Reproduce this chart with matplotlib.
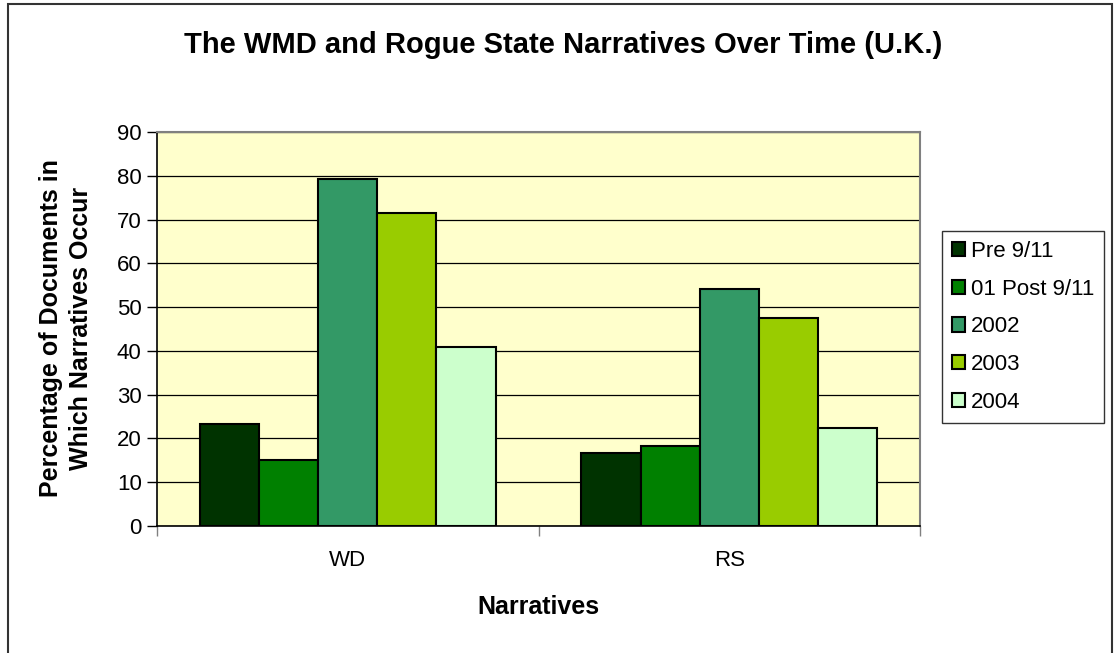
import numpy as np
import matplotlib
matplotlib.use("Agg")
import matplotlib.pyplot as plt
from matplotlib.patches import Rectangle

plt.rcParams['font.family'] = ['Liberation Sans', 'DejaVu Sans']

categories = ['WD', 'RS']
series_names = ['Pre 9/11', '01 Post 9/11', '2002', '2003', '2004']
series_values = [
    [23.3, 16.7],   # Pre 9/11
    [15.1, 18.2],   # 01 Post 9/11
    [79.2, 54.1],   # 2002
    [71.4, 47.6],   # 2003
    [40.8, 22.4],   # 2004
]
colors = ['#003300', '#008000', '#339966', '#99CC00', '#CCFFCC']

fig = plt.figure(figsize=(11.14, 6.53), dpi=100)
W, H = 1114, 653
ax = fig.add_axes([157 / W, 1 - 526 / H, (920 - 157) / W, (526 - 132) / H])
ax.set_facecolor('#FFFFCC')

x = np.arange(len(categories))
bar_w = 0.155
offsets = (np.arange(len(series_names)) - 2) * bar_w
for vals, name, col, off in zip(series_values, series_names, colors, offsets):
    ax.bar(x + off, vals, width=bar_w, color=col, edgecolor='black',
           linewidth=1.5, label=name, zorder=3)

ax.set_xlim(-0.5, 1.5)
ax.set_ylim(0, 90)
ax.set_yticks(np.arange(0, 91, 10))
ax.yaxis.grid(True, color='black', linewidth=0.9, zorder=1)
ax.set_axisbelow(True)

# category boundary ticks on the x axis, labels centred under groups
ax.set_xticks([-0.5, 0.5, 1.5])
ax.set_xticklabels([])
ax.set_xticks(x, minor=True)
ax.set_xticklabels(categories, minor=True)
ax.tick_params(axis='x', which='minor', length=0, pad=17, labelsize=16)
ax.tick_params(axis='x', which='major', length=7, width=1, color='#808080')
ax.tick_params(axis='y', length=7, width=1, labelsize=16, pad=4)

for side in ('top', 'right'):
    ax.spines[side].set_color('#808080')
    ax.spines[side].set_linewidth(1.5)
for side in ('left', 'bottom'):
    ax.spines[side].set_color('black')
    ax.spines[side].set_linewidth(1.2)

fig.text(563 / W, 1 - 45 / H, 'The WMD and Rogue State Narratives Over Time (U.K.)',
         ha='center', va='center', fontsize=21, fontweight='bold')
fig.text(538 / W, 1 - 607 / H, 'Narratives', ha='center', va='center',
         fontsize=18, fontweight='bold')
fig.text(66 / W, 1 - 328 / H, 'Percentage of Documents in\nWhich Narratives Occur',
         ha='center', va='center', rotation=90, fontsize=18, fontweight='bold',
         linespacing=1.3)

leg = ax.legend(loc='upper left', bbox_to_anchor=(942 / W, 1 - 231 / H),
                bbox_transform=fig.transFigure, frameon=True, fancybox=False,
                fontsize=16, handlelength=0.6, handleheight=0.6,
                handletextpad=0.25, labelspacing=0.75, borderpad=0.45,
                borderaxespad=0)
leg.get_frame().set_edgecolor('black')
leg.get_frame().set_linewidth(1.0)

# outer chart frame
fig.patches.append(Rectangle((8 / W, -0.05), (1112 - 8) / W, 1.05 - 4 / H,
                             transform=fig.transFigure, fill=False,
                             edgecolor='#333333', linewidth=1.5))

fig.savefig('out.png', dpi=100)
